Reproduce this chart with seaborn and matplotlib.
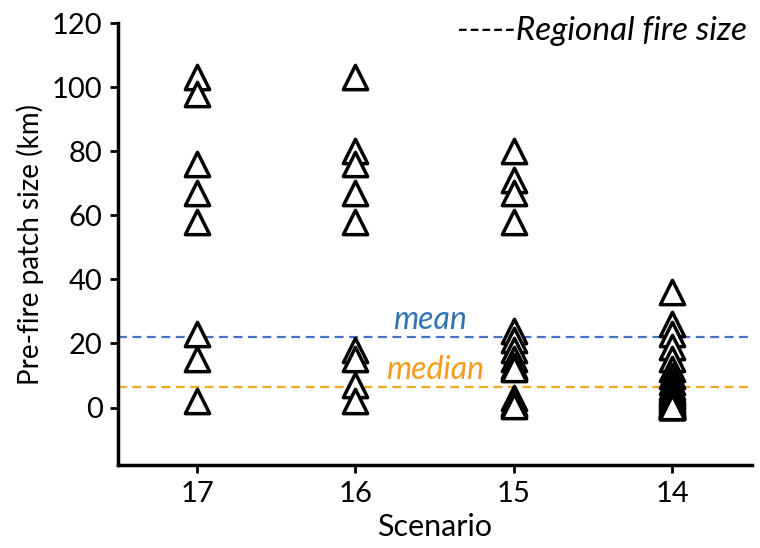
import pandas as pd
import matplotlib
matplotlib.use("Agg")
import matplotlib.pyplot as plt
import seaborn as sns

# values
scenarios = ["17", "16", "15", "14"]
s17 = [103, 98, 76, 67, 58, 23, 15, 2]
s16 = [103, 80, 76, 67, 58, 18, 15, 7, 2]
s15 = [80, 71, 67, 58, 24, 21, 18, 15, 13, 12.5, 12, 3, 1.5, 1, 0.5]
s14 = [36, 26, 23, 19, 15, 12, 10, 8, 6.5, 5.5, 5, 4.5, 4, 3.5, 3, 2.5, 2,
       1.5, 1.2, 1, 0.8, 0.6, 0.5, 0.4, 0.3, 0.2, 0.1]
mean_val = 22
median_val = 6.5

rows = []
for sc, vals in zip(scenarios, [s17, s16, s15, s14]):
    for v in vals:
        rows.append({"Scenario": sc, "size": v})
df = pd.DataFrame(rows)

sns.set_style("white")
plt.rcParams["font.family"] = ["Lato", "DejaVu Sans"]
plt.rcParams["text.color"] = "black"
plt.rcParams["axes.labelcolor"] = "black"
plt.rcParams["xtick.color"] = "black"
plt.rcParams["ytick.color"] = "black"

fig = plt.figure(figsize=(7.6, 5.48), dpi=100)
ax = fig.add_axes([0.155, 0.151, 0.834, 0.807])

ax.axhline(mean_val, color="#4472C4", ls=(0, (4, 2.5)), lw=1.6, zorder=1)
ax.axhline(median_val, color="#F5A623", ls=(0, (4, 2.5)), lw=1.6, zorder=1)

sns.stripplot(data=df, x="Scenario", y="size", order=scenarios, jitter=False,
              marker="^", size=17.5, color="white", edgecolor="black",
              linewidth=2.5, ax=ax, zorder=3)

ax.text(1.47, mean_val + 0.8, "mean", color="#2E75B6", fontsize=23,
        style="italic", ha="center", va="bottom")
ax.text(1.5, median_val + 0.6, "median", color="#F39C1E", fontsize=23,
        style="italic", ha="center", va="bottom")
ax.text(3.47, 117.5, "-----Regional fire size", fontsize=24, style="italic",
        ha="right", va="center")

ax.set_xlim(-0.5, 3.5)
ax.set_ylim(-18, 120)
ax.set_yticks(range(0, 121, 20))
ax.set_xlabel("Scenario", fontsize=22, labelpad=5)
ax.set_ylabel("Pre-fire patch size (km)", fontsize=20, labelpad=6)
ax.tick_params(axis="both", labelsize=21, direction="out", length=6, width=2,
               left=True, bottom=True, pad=5)
for side in ["top", "right"]:
    ax.spines[side].set_visible(False)
for side in ["left", "bottom"]:
    ax.spines[side].set_linewidth(2.5)
    ax.spines[side].set_color("black")

fig.savefig("out.png", dpi=100)
